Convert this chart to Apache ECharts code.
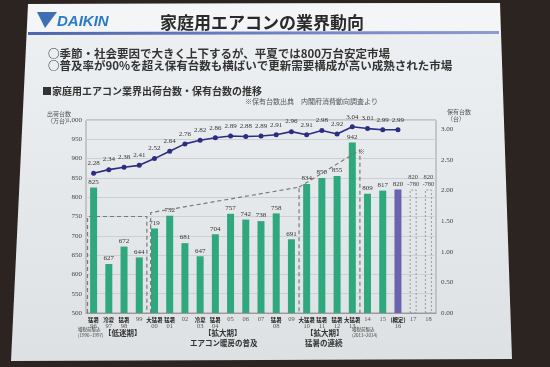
<!DOCTYPE html>
<html><head><meta charset="utf-8">
<script src="https://cdn.jsdelivr.net/npm/echarts@6/dist/echarts.min.js"></script>
<style>html,body{margin:0;padding:0;background:#2b2420;}#c{width:550px;height:367px;}</style>
</head><body><div id="c"></div><script>
// ---- data ----
const years = ['96','97','98','99','00','01','02','03','04','05','06','07','08','09','10','11','12','13','14','15','16','17','18'];
const tags = ['猛暑','冷夏','猛暑','','大猛暑','猛暑','','冷夏','猛暑','','','','猛暑','','大猛暑','猛暑','猛暑','大猛暑','','','(概定)','',''];
const shipments = [825,627,672,644,719,752,681,647,704,757,742,738,758,691,834,850,855,942,809,817,820,null,null];
const estimateIndex = 20;
const forecast = [null,null,null,null,null,null,null,null,null,null,null,null,null,null,null,null,null,null,null,null,null,820,820];
const forecastLow = 780;
const stock = [2.28,2.34,2.38,2.41,2.52,2.64,2.76,2.82,2.86,2.89,2.88,2.89,2.91,2.96,2.91,2.98,2.92,3.04,3.01,2.99,2.99];
const leftTicks = {min:500, max:1000, step:50};
const rightTicks = {min:0, max:3.15, step:0.5, labelMax:3};
// dashed phase outlines (x in category index units, y in 万台)
const phaseBox1 = [[-0.4,500],[-0.4,750],[3.5,750],[3.5,500]];
const phaseBox2 = [[3.75,500],[3.75,760],[13.5,826],[13.5,500]];
const phaseBox3 = [[13.5,826],[17.5,922],[17.5,500]];

const chart = echarts.init(document.getElementById('c'), null, {renderer:'canvas'});
const JP = '"Noto Sans CJK JP", sans-serif';
const SERIF = '"Liberation Serif", "DejaVu Serif", serif';
const txt = (x, y, text, size, opts) => Object.assign({type:'text', x:x, y:y, z:1,
  style:Object.assign({text:text, fontSize:size, fontFamily:JP, fill:'#333'}, opts || {})});
const dashSeries = (d) => ({
  type:'line', xAxisIndex:1, yAxisIndex:0, data:d, symbol:'none', silent:true,
  lineStyle:{color:'#7a7a7a', width:1.2, type:[4,3]}, z:4
});
chart.setOption({
  backgroundColor:'#2b2420',
  animation:false,
  graphic:{elements:[
    {type:'polygon', z:-10, shape:{points:[[28,4],[500,3],[512,359],[11,361]]},
      style:{fill:new echarts.graphic.LinearGradient(0,0,0,1,[{offset:0,color:'#eef1f3'},{offset:1,color:'#dde1e3'}])}},
    {type:'polygon', z:-9, shape:{points:[[28,4],[500,3],[500,34],[28,34]]}, style:{fill:'#f3f5f7'}},
    {type:'polygon', z:-8, shape:{points:[[28,32],[499,31],[499,34],[28,35]]},
      style:{fill:new echarts.graphic.LinearGradient(0,0,1,0,[{offset:0,color:'#4f64b0'},{offset:1,color:'#8e9bd0'}])}},
    {type:'polygon', z:-7, shape:{points:[[37,12],[57,12],[45,28]]}, style:{fill:'#3d6fb2'}},
    txt(57, 14, 'DAIKIN', 15, {fontStyle:'italic', fontWeight:'bold', fontFamily:'"Liberation Sans", sans-serif', fill:'#2a7bc6'}),
    txt(160, 14, '家庭用エアコンの業界動向', 17, {fontWeight:'bold', fill:'#2a2a2a'}),
    txt(48, 48, '○季節・社会要因で大きく上下するが、平夏では800万台安定市場', 11.5, {fontWeight:'bold'}),
    txt(48, 60, '○普及率が90%を超え保有台数も横ばいで更新需要構成が高い成熟された市場', 11.5, {fontWeight:'bold'}),
    txt(42, 86, '■家庭用エアコン業界出荷台数・保有台数の推移', 10, {fontWeight:'bold'}),
    txt(245, 98, '※保有台数出典　内閣府消費動向調査より', 7, {fill:'#555'}),
    txt(47, 110, '出荷台数\n（万台）', 6, {fill:'#555', lineHeight:7}),
    txt(447, 108, '保有台数\n（台）', 6, {fill:'#555', lineHeight:7}),
    txt(358, 148, '※', 7, {fill:'#666'}),
    txt(78, 326, '増税前駆込\n(1996~1997)', 4.5, {fill:'#444', lineHeight:6}),
    txt(104, 329, '【低迷期】', 7.5, {fontWeight:'bold'}),
    txt(204, 329, '【拡大期】', 7.5, {fontWeight:'bold'}),
    txt(190, 339, 'エアコン暖房の普及', 7.5, {fontWeight:'bold'}),
    txt(306, 329, '【拡大期】', 7.5, {fontWeight:'bold'}),
    txt(305, 339, '猛暑の連続', 7.5, {fontWeight:'bold'}),
    txt(352, 326, '増税前駆込\n(2013~2014)', 4.5, {fill:'#444', lineHeight:6})
  ]},
  grid:{left:86, right:114, top:120, bottom:54, show:true, borderColor:'#a0a0a0', borderWidth:1, backgroundColor:'transparent'},
  xAxis:[
    {type:'category', data:years, axisTick:{show:false},
     axisLine:{lineStyle:{color:'#999'}},
     axisLabel:{interval:0, margin:3, color:'#444',
       formatter:(v,i)=> tags[i] ? `{t|${tags[i]}}\n{y|${v}}` : `{y|${v}}`,
       rich:{t:{fontSize:5.5, fontWeight:'bold', fontFamily:JP, color:'#222', lineHeight:7},
             y:{fontSize:6.5, fontFamily:SERIF, color:'#555', lineHeight:7}}}},
    {type:'value', min:-0.5, max:22.5, show:false}
  ],
  yAxis:[
    {type:'value', min:leftTicks.min, max:leftTicks.max, interval:leftTicks.step,
     axisLine:{show:false}, axisTick:{show:false},
     axisLabel:{fontSize:7, fontFamily:SERIF, color:'#444', margin:4},
     splitLine:{lineStyle:{color:'#cdd0d2', width:1}}},
    {type:'value', min:rightTicks.min, max:rightTicks.max, interval:rightTicks.step,
     axisLine:{show:false}, axisTick:{show:false}, splitLine:{show:false},
     axisLabel:{fontSize:7, fontFamily:SERIF, color:'#444', margin:5,
       formatter:v=> v>rightTicks.labelMax+0.001 ? '' : v.toFixed(2)}}
  ],
  series:[
    {type:'bar', data:shipments.map((v,i)=> i===estimateIndex ? {value:v, itemStyle:{color:'#6a64b0'}} : v),
     barWidth:7, itemStyle:{color:'#2ea87c'}, z:3,
     label:{show:true, position:'top', distance:2, fontSize:7, fontFamily:SERIF, color:'#333'}},
    {type:'bar', data:forecast, barWidth:7, barGap:'-100%', z:3,
     itemStyle:{color:'rgba(0,0,0,0)', borderColor:'#9a9a9a', borderWidth:1, borderType:[2,2]},
     label:{show:true, position:'top', distance:2, fontSize:6.5, fontFamily:SERIF, color:'#444', lineHeight:7,
       formatter:p=> p.value+'\n-'+forecastLow}},
    {type:'line', yAxisIndex:1, data:stock, symbol:'circle', symbolSize:5, z:5,
     itemStyle:{color:'#2c2d82'}, lineStyle:{color:'#2c2d82', width:1.6},
     label:{show:true, position:'top', distance:4, fontSize:7, fontFamily:SERIF, color:'#333',
       formatter:p=> p.value.toFixed(2)}},
    dashSeries(phaseBox1), dashSeries(phaseBox2), dashSeries(phaseBox3)
  ]
});
</script></body></html>
